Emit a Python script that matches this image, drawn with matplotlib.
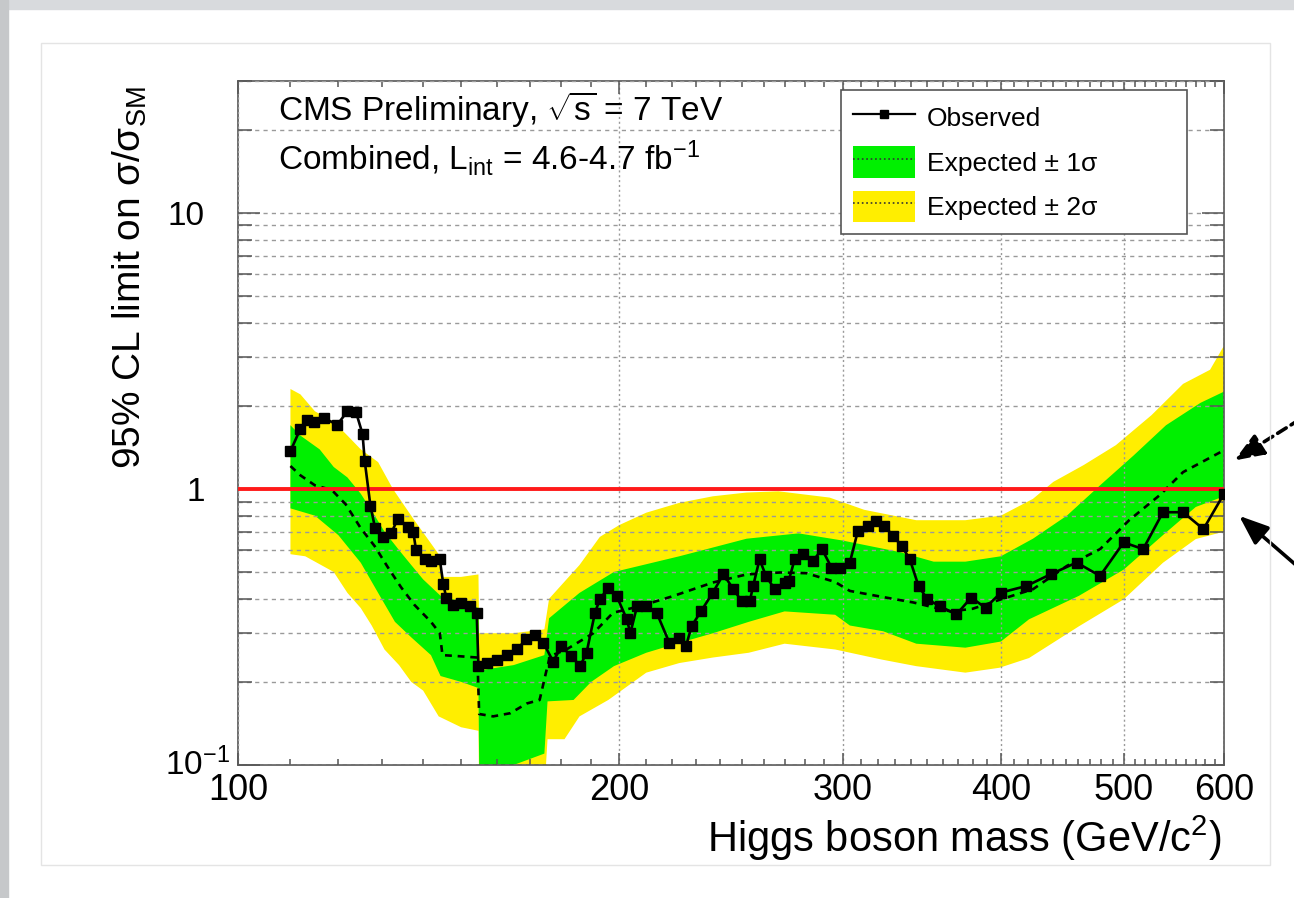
import numpy as np
import matplotlib
matplotlib.use('Agg')
import matplotlib.pyplot as plt
import matplotlib.transforms as mtransforms
from matplotlib.ticker import FixedLocator, FixedFormatter, NullFormatter
from matplotlib.lines import Line2D
from matplotlib.patches import Patch, Rectangle

plt.rcParams['font.family'] = ['Liberation Sans', 'DejaVu Sans']
plt.rcParams['mathtext.fontset'] = 'custom'
plt.rcParams['mathtext.rm'] = 'Liberation Sans'
plt.rcParams['mathtext.it'] = 'Liberation Sans:italic'
plt.rcParams['mathtext.bf'] = 'Liberation Sans:bold'

# observed limit
obs_mass = [110, 112, 113.4, 114.8, 116.9, 119.8, 122, 123.9, 125.4, 125.9, 127.2, 128.3,
            130.1, 132.1, 133.7, 136.2, 137.5, 138.2, 140.4, 142.1, 144.3, 145.2, 146,
            147.8, 150.1, 152.4, 154.3, 154.8, 157.1, 160, 162.9, 165.9, 168.9, 171.5,
            174.2, 177.3, 180, 183.3, 186.2, 188.4, 191.3, 193, 196, 199, 202.7, 204,
            206.5, 210, 214, 219, 223, 225.7, 228, 232, 237, 241.6, 246, 249.7, 253.5,
            255, 258, 261, 265.2, 270, 272, 275, 279.4, 284.4, 289, 294, 298.5, 304,
            308.5, 314, 319, 323.5, 328.7, 334, 339, 344.4, 350, 358, 369, 379, 389,
            400, 419, 438, 459, 479, 500, 518, 537, 557, 578, 600]
obs_val = [1.37, 1.65, 1.78, 1.74, 1.80, 1.71, 1.91, 1.90, 1.58, 1.26, 0.87, 0.72,
           0.67, 0.69, 0.78, 0.73, 0.70, 0.60, 0.556, 0.546, 0.555, 0.453, 0.404,
           0.381, 0.387, 0.376, 0.355, 0.228, 0.235, 0.241, 0.251, 0.262, 0.285, 0.295,
           0.277, 0.237, 0.269, 0.248, 0.228, 0.255, 0.356, 0.398, 0.439, 0.409, 0.337, 0.30,
           0.376, 0.376, 0.356, 0.277, 0.289, 0.269, 0.318, 0.361, 0.421, 0.491, 0.433, 0.393, 0.393,
           0.445, 0.556, 0.484, 0.433, 0.458, 0.464, 0.556, 0.58, 0.549, 0.605, 0.519, 0.519, 0.541,
           0.706, 0.736, 0.767, 0.736, 0.677, 0.622, 0.556, 0.445, 0.398, 0.376, 0.351, 0.404, 0.371,
           0.421, 0.445, 0.491, 0.541, 0.484, 0.64, 0.605, 0.823, 0.823, 0.715, 0.96]

# expected (median) limit
exp_mass = [110, 112, 115, 118.6, 121.6, 125, 128.2, 131.3, 134.5, 137.8, 142, 144.3, 145,
            149, 154.5, 155, 159, 164, 169, 173, 175, 176.3, 181.6, 190.7, 197.7, 207.6,
            220.5, 237, 252, 268, 281, 296, 304, 322.6, 341, 365, 380, 400, 424, 451, 479,
            505, 534, 557, 580, 600]
exp_val = [1.21, 1.12, 1.03, 0.99, 0.88, 0.72, 0.62, 0.52, 0.44, 0.38, 0.33, 0.30, 0.25,
           0.248, 0.245, 0.153, 0.15, 0.154, 0.167, 0.172, 0.216, 0.248, 0.262, 0.30, 0.356, 0.376,
           0.409, 0.458, 0.49, 0.498, 0.495, 0.46, 0.427, 0.406, 0.388, 0.36, 0.368, 0.398, 0.433,
           0.526, 0.605, 0.77, 0.95, 1.15, 1.27, 1.38]

# +-1 sigma band
g_up_m = [110, 112, 116, 119, 122, 125, 128, 130.5, 134, 137, 140, 144.5, 150, 154.8, 155,
          165, 174.5, 176, 186, 198, 223, 252, 277, 300, 333, 354, 375, 400, 424, 451, 479,
          509, 540, 575, 600]
g_up_v = [1.70, 1.56, 1.39, 1.20, 1.10, 0.96, 0.81, 0.70, 0.60, 0.53, 0.47, 0.41, 0.39, 0.37,
          0.22, 0.23, 0.25, 0.34, 0.42, 0.50, 0.57, 0.66, 0.69, 0.65, 0.59, 0.545, 0.545, 0.57,
          0.66, 0.80, 1.03, 1.32, 1.70, 2.05, 2.25]
g_lo_m = [110, 115, 120, 125, 129, 133, 137, 142, 144.5, 150, 154.8, 155, 165, 174.5, 175.5,
          184, 190, 198, 210, 223, 237, 253, 270, 296, 304, 323, 343, 375, 400, 421, 461, 500,
          537, 570, 600]
g_lo_v = [0.85, 0.80, 0.68, 0.54, 0.42, 0.33, 0.29, 0.25, 0.21, 0.20, 0.19, 0.10, 0.10,
          0.11, 0.17, 0.172, 0.20, 0.228, 0.255, 0.277, 0.30, 0.33, 0.36, 0.35, 0.32, 0.305,
          0.275, 0.266, 0.28, 0.337, 0.41, 0.51, 0.68, 0.86, 0.94]

# +-2 sigma band
y_up_m = [110, 112, 115, 119, 122, 125, 129, 132.5, 137.5, 144, 145, 150, 154.8, 155, 165,
          174.5, 176, 186, 193, 200, 210, 223, 237, 252, 267, 293, 312, 343, 375, 400, 424,
          440, 465, 493, 526, 557, 585, 600]
y_up_v = [2.30, 2.20, 1.91, 1.75, 1.56, 1.39, 1.25, 1.00, 0.78, 0.58, 0.48, 0.48, 0.49, 0.30,
          0.30, 0.31, 0.40, 0.53, 0.67, 0.74, 0.82, 0.89, 0.94, 0.97, 0.98, 0.93, 0.84, 0.77,
          0.77, 0.80, 0.92, 1.06, 1.22, 1.44, 1.85, 2.40, 2.70, 3.30]
y_lo_m = [110, 113, 119, 122, 125, 127.5, 130.5, 134, 137, 140, 144, 150, 154.8, 155, 174.5,
          175.5, 181, 186, 196, 210, 223, 237, 253, 270, 296, 322, 343, 375, 399, 421, 461,
          500, 537, 570, 600]
y_lo_v = [0.58, 0.57, 0.50, 0.42, 0.37, 0.32, 0.262, 0.23, 0.20, 0.186, 0.15, 0.137, 0.133,
          0.08, 0.08, 0.124, 0.124, 0.15, 0.172, 0.216, 0.234, 0.245, 0.255, 0.275, 0.262,
          0.241, 0.228, 0.216, 0.225, 0.244, 0.318, 0.398, 0.54, 0.658, 0.70]

x_major = [100, 200, 300, 400, 500, 600]
x_minor = [m for d in range(100, 600, 100) for m in range(d + 10, d + 100, 10)]
y_major = [0.1, 1, 10]
y_minor = [0.2, 0.3, 0.4, 0.5, 0.6, 0.7, 0.8, 0.9, 2, 3, 4, 5, 6, 7, 8, 9, 20, 30]

GREEN = '#00f000'
YELLOW = '#ffee00'

fig = plt.figure(figsize=(12.94, 8.98), dpi=100)
fig.patch.set_facecolor('white')

# screenshot frame
fig.patches.append(Rectangle((0, 1 - 9 / 898), 1, 9 / 898, transform=fig.transFigure,
                             color='#d8dadd', zorder=0))
fig.patches.append(Rectangle((0, 0), 8 / 1294, 1, transform=fig.transFigure,
                             color='#c6c8ca', zorder=0))
fig.patches.append(Rectangle((41 / 1294, 1 - 865 / 898), 1229 / 1294, 822 / 898,
                             transform=fig.transFigure, fill=False, edgecolor='#e4e4e4',
                             lw=1, zorder=0))

ax = fig.add_axes([238 / 1294, 1 - 765 / 898, 986 / 1294, 684 / 898])
ax.set_xscale('log')
ax.set_yscale('log')
ax.set_xlim(100, 600)
ax.set_ylim(0.1, 30)

ax.fill(np.concatenate([y_up_m, y_lo_m[::-1]]), np.concatenate([y_up_v, y_lo_v[::-1]]),
        color=YELLOW, lw=0, zorder=1)
ax.fill(np.concatenate([g_up_m, g_lo_m[::-1]]), np.concatenate([g_up_v, g_lo_v[::-1]]),
        color=GREEN, lw=0, zorder=1.1)
ax.plot(exp_mass, exp_val, color='k', ls=(0, (2.6, 2.2)), lw=1.9, zorder=3)
ax.axhline(1, color='#ff1a1a', lw=2.8, zorder=3.5)
ax.plot(obs_mass, obs_val, color='k', lw=1.9, marker='s', ms=6.8, zorder=4)

# axes / ticks
ax.xaxis.set_major_locator(FixedLocator(x_major))
ax.xaxis.set_major_formatter(FixedFormatter([str(v) for v in x_major]))
ax.xaxis.set_minor_locator(FixedLocator(x_minor))
ax.xaxis.set_minor_formatter(NullFormatter())
ax.yaxis.set_major_locator(FixedLocator(y_major))
ax.yaxis.set_major_formatter(FixedFormatter(['', '1', '10']))
ax.yaxis.set_minor_locator(FixedLocator(y_minor))
ax.yaxis.set_minor_formatter(NullFormatter())

ax.set_axisbelow(False)
ax.grid(which='both', axis='y', ls=(0, (3, 3)), lw=1, color='#9a9a9a')
ax.grid(which='major', axis='x', ls=(0, (1.5, 2)), lw=1, color='#9a9a9a')

ax.tick_params(axis='both', which='both', direction='in', top=True, right=True,
               color='#555555', width=1.1)
ax.tick_params(axis='x', which='major', length=9, pad=6, labelsize=26)
ax.tick_params(axis='x', which='minor', length=4.5)
ax.tick_params(axis='y', which='major', length=16, pad=24, labelsize=24)
ax.tick_params(axis='y', which='minor', length=10)
for s in ax.spines.values():
    s.set_color('#555555')
    s.set_linewidth(1.2)

blend = mtransforms.blended_transform_factory(ax.transAxes, ax.transData)
ax.text(-0.074, 0.1, r'10$^{-1}$', transform=blend, ha='left', va='center', fontsize=24)

fig.text(130 / 1294, 1 - 86 / 898, r'95% CL limit on σ/σ$_{\mathrm{SM}}$', rotation=90,
         ha='center', va='top', fontsize=28)
fig.text(1222 / 1294, 1 - 852 / 898, r'Higgs boson mass (GeV/c$^{2}$)', ha='right',
         va='baseline', fontsize=30)

fig.text(278 / 1294, 1 - 120 / 898, r'CMS Preliminary, $\sqrt{\mathrm{s}}$ = 7 TeV',
         ha='left', va='baseline', fontsize=24)
fig.text(278 / 1294, 1 - 170 / 898, r'Combined, L$_{\mathrm{int}}$ = 4.6-4.7 fb$^{-1}$',
         ha='left', va='baseline', fontsize=24)

handles = [Line2D([], [], color='k', lw=1.6, marker='s', ms=5.5),
           (Patch(facecolor=GREEN, edgecolor='none'), Line2D([], [], color='#333333', ls=':', lw=1.2)),
           (Patch(facecolor=YELLOW, edgecolor='none'), Line2D([], [], color='#333333', ls=':', lw=1.2))]
labels = ['Observed', 'Expected ± 1σ', 'Expected ± 2σ']
leg = ax.legend(handles, labels, loc='upper left', mode='expand',
                bbox_to_anchor=(603 / 986, (765 - 248) / 684, 346 / 986, 158 / 684),
                borderaxespad=0, fontsize=19, handlelength=2.35, handleheight=1.45,
                handletextpad=0.45, labelspacing=0.5, borderpad=0.45, fancybox=False,
                framealpha=1, edgecolor='#555555')
leg.get_frame().set_linewidth(1.2)

# arrows pointing to the end of the expected and observed curves
ax.annotate('', xy=(1232, 898 - 462), xycoords='figure pixels',
            xytext=(1302, 898 - 418), textcoords='figure pixels', annotation_clip=False,
            arrowprops=dict(arrowstyle='-|>,head_length=0.9,head_width=0.35', lw=2.6,
                            ls=(0, (2.8, 1.6)), color='k', mutation_scale=20))
ax.annotate('', xy=(1237, 898 - 514), xycoords='figure pixels',
            xytext=(1304, 898 - 572), textcoords='figure pixels', annotation_clip=False,
            arrowprops=dict(arrowstyle='-|>,head_length=0.9,head_width=0.35', lw=2.6,
                            color='k', mutation_scale=20))

fig.savefig('out.png', dpi=100)
